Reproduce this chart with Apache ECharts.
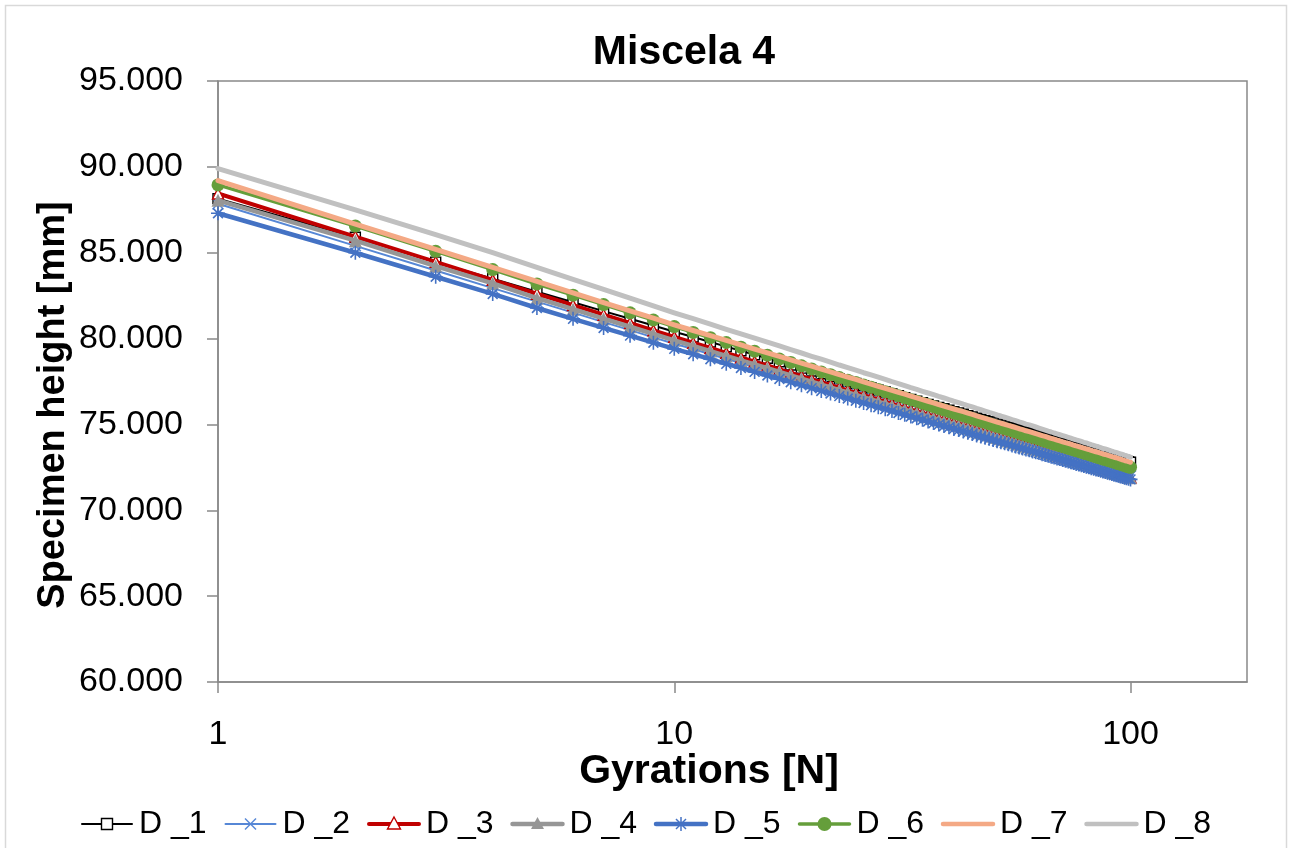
<!DOCTYPE html>
<html>
<head>
<meta charset="utf-8">
<script src="https://cdn.jsdelivr.net/npm/echarts@6/dist/echarts.min.js"></script>
<style>
html,body{margin:0;padding:0;background:#fff;}
#chart{width:1292px;height:848px;}
</style>
</head>
<body>
<div id="chart"></div>
<script>
const titleText = 'Miscela 4';
const xAxisName = 'Gyrations [N]';
const yAxisName = 'Specimen height [mm]';
const seriesNames = ['D _1','D _2','D _3','D _4','D _5','D _6','D _7','D _8'];
const xTicks = [1, 10, 100];
const yTicks = [60, 65, 70, 75, 80, 85, 90, 95];

const gyrations = [1,2,3,4,5,6,7,8,9,10,11,12,13,14,15,16,17,18,19,20,21,22,23,24,25,26,27,28,29,30,31,32,33,34,35,36,37,38,39,40,41,42,43,44,45,46,47,48,49,50,51,52,53,54,55,56,57,58,59,60,61,62,63,64,65,66,67,68,69,70,71,72,73,74,75,76,77,78,79,80,81,82,83,84,85,86,87,88,89,90,91,92,93,94,95,96,97,98,99,100];

const d1 = [88.15,85.90,84.45,83.48,82.73,82.12,81.60,81.15,80.76,80.40,80.09,79.80,79.53,79.29,79.06,78.85,78.65,78.46,78.28,78.11,77.95,77.80,77.65,77.51,77.38,77.25,77.12,77.00,76.89,76.78,76.67,76.56,76.46,76.36,76.27,76.17,76.08,75.99,75.91,75.83,75.74,75.67,75.59,75.51,75.44,75.36,75.29,75.22,75.16,75.09,75.02,74.96,74.90,74.84,74.78,74.72,74.65,74.60,74.54,74.49,74.43,74.38,74.33,74.27,74.22,74.17,74.12,74.07,74.02,73.98,73.93,73.89,73.84,73.80,73.75,73.70,73.67,73.62,73.58,73.54,73.50,73.45,73.42,73.38,73.34,73.30,73.26,73.23,73.19,73.15,73.11,73.07,73.04,73.01,72.97,72.94,72.90,72.87,72.83,72.80];
const d2 = [87.85,85.40,83.96,82.94,82.15,81.51,80.96,80.49,80.07,79.70,79.39,79.09,78.82,78.58,78.34,78.13,77.93,77.73,77.55,77.38,77.22,77.07,76.91,76.77,76.64,76.51,76.38,76.26,76.14,76.03,75.92,75.81,75.71,75.61,75.52,75.41,75.32,75.23,75.15,75.07,74.98,74.91,74.83,74.75,74.68,74.59,74.52,74.45,74.39,74.32,74.25,74.19,74.13,74.07,74.01,73.95,73.87,73.82,73.76,73.71,73.65,73.60,73.55,73.49,73.44,73.39,73.34,73.29,73.24,73.20,73.15,73.10,73.05,73.01,72.96,72.91,72.88,72.83,72.79,72.75,72.71,72.66,72.63,72.59,72.55,72.51,72.47,72.44,72.40,72.36,72.31,72.27,72.24,72.21,72.17,72.14,72.10,72.07,72.03,72.00];
const d3 = [88.45,85.94,84.47,83.42,82.61,81.95,81.39,80.91,80.48,80.10,79.76,79.45,79.17,78.90,78.66,78.43,78.21,78.01,77.81,77.63,77.46,77.30,77.13,76.98,76.84,76.70,76.57,76.44,76.31,76.19,76.07,75.96,75.84,75.75,75.64,75.54,75.44,75.34,75.25,75.16,75.07,74.99,74.91,74.83,74.75,74.66,74.59,74.52,74.44,74.37,74.29,74.23,74.16,74.10,74.03,73.97,73.90,73.84,73.78,73.72,73.66,73.61,73.55,73.49,73.43,73.38,73.33,73.27,73.22,73.17,73.12,73.07,73.02,72.97,72.93,72.88,72.84,72.79,72.74,72.70,72.65,72.61,72.56,72.52,72.48,72.44,72.39,72.36,72.32,72.28,72.24,72.20,72.16,72.12,72.08,72.05,72.01,71.97,71.93,71.90];
const d4 = [88.05,85.70,84.22,83.22,82.35,81.71,81.16,80.69,80.27,79.90,79.57,79.27,78.99,78.73,78.49,78.27,78.06,77.86,77.67,77.49,77.32,77.16,77.00,76.86,76.72,76.58,76.45,76.32,76.20,76.08,75.97,75.86,75.75,75.65,75.55,75.45,75.36,75.26,75.17,75.08,75.00,74.92,74.84,74.76,74.68,74.60,74.52,74.45,74.38,74.31,74.24,74.17,74.11,74.04,73.98,73.92,73.85,73.80,73.73,73.68,73.62,73.56,73.51,73.45,73.40,73.34,73.29,73.24,73.19,73.14,73.09,73.04,73.00,72.95,72.90,72.85,72.81,72.76,72.72,72.68,72.64,72.59,72.55,72.51,72.47,72.43,72.38,72.35,72.31,72.27,72.23,72.19,72.16,72.12,72.08,72.04,72.00,71.97,71.93,71.90];
const d5 = [87.30,85.00,83.60,82.60,81.78,81.15,80.62,80.17,79.76,79.40,79.09,78.80,78.53,78.29,78.06,77.85,77.65,77.46,77.28,77.11,76.95,76.80,76.65,76.51,76.38,76.25,76.12,76.00,75.89,75.78,75.67,75.56,75.46,75.36,75.27,75.17,75.08,74.99,74.91,74.83,74.74,74.67,74.59,74.51,74.44,74.36,74.29,74.22,74.16,74.09,74.02,73.96,73.90,73.84,73.78,73.72,73.65,73.60,73.54,73.49,73.43,73.38,73.33,73.27,73.22,73.17,73.12,73.07,73.02,72.98,72.93,72.89,72.84,72.80,72.75,72.70,72.67,72.62,72.58,72.54,72.50,72.45,72.42,72.38,72.34,72.30,72.26,72.23,72.19,72.15,72.11,72.07,72.04,72.01,71.97,71.94,71.90,71.87,71.83,71.80];
const d6 = [88.95,86.55,85.08,84.02,83.18,82.53,81.98,81.50,81.08,80.70,80.36,80.05,79.77,79.50,79.26,79.03,78.81,78.61,78.41,78.23,78.06,77.90,77.73,77.58,77.44,77.30,77.17,77.04,76.91,76.79,76.67,76.56,76.44,76.35,76.24,76.14,76.04,75.94,75.85,75.76,75.67,75.59,75.51,75.43,75.35,75.26,75.19,75.12,75.04,74.97,74.89,74.83,74.76,74.70,74.63,74.57,74.50,74.44,74.38,74.32,74.26,74.21,74.15,74.09,74.03,73.98,73.93,73.87,73.82,73.77,73.72,73.67,73.62,73.57,73.53,73.48,73.44,73.39,73.34,73.30,73.25,73.21,73.16,73.12,73.08,73.04,72.99,72.96,72.92,72.88,72.84,72.80,72.76,72.72,72.68,72.65,72.61,72.57,72.53,72.50];
const d7 = [89.20,86.67,85.19,84.14,83.33,82.66,82.10,81.61,81.19,80.80,80.47,80.17,79.89,79.63,79.39,79.17,78.96,78.76,78.57,78.39,78.22,78.06,77.90,77.76,77.62,77.48,77.35,77.22,77.10,76.98,76.87,76.76,76.65,76.55,76.45,76.35,76.26,76.16,76.07,75.98,75.90,75.82,75.74,75.66,75.58,75.50,75.42,75.35,75.28,75.21,75.14,75.07,75.01,74.94,74.88,74.82,74.75,74.70,74.63,74.58,74.52,74.46,74.41,74.35,74.30,74.24,74.19,74.14,74.09,74.04,73.99,73.94,73.90,73.85,73.80,73.75,73.71,73.66,73.62,73.58,73.54,73.49,73.45,73.41,73.37,73.33,73.28,73.25,73.21,73.17,73.13,73.09,73.06,73.02,72.98,72.94,72.90,72.87,72.83,72.80];
const d8 = [89.90,87.50,86.05,85.00,84.15,83.45,82.86,82.35,81.90,81.50,81.16,80.84,80.54,80.27,80.02,79.79,79.57,79.36,79.16,78.97,78.80,78.63,78.46,78.31,78.16,78.01,77.88,77.75,77.62,77.49,77.38,77.26,77.14,77.04,76.93,76.83,76.73,76.63,76.54,76.44,76.35,76.27,76.18,76.10,76.02,75.93,75.86,75.78,75.70,75.63,75.55,75.49,75.42,75.35,75.28,75.22,75.15,75.09,75.02,74.97,74.91,74.85,74.79,74.73,74.67,74.61,74.56,74.50,74.45,74.40,74.35,74.30,74.25,74.20,74.15,74.10,74.06,74.01,73.96,73.92,73.87,73.82,73.78,73.74,73.70,73.65,73.60,73.57,73.53,73.49,73.44,73.40,73.37,73.33,73.29,73.25,73.21,73.18,73.13,73.10];

const FONT = '"Liberation Sans", Arial, sans-serif';
const SYM_X = 'path://M0,0 L10,10 M10,0 L0,10';
const SYM_STAR = 'path://M0,5 L10,5 M5,0 L5,10 M1.5,1.5 L8.5,8.5 M8.5,1.5 L1.5,8.5';

const styles = [
  {color:'#000000', width:2, mark:'square', symbol:'rect', size:10, fill:'#ffffff', border:'#000000', bw:1.4},
  {color:'#5687D6', width:2, mark:'x', symbol:SYM_X, size:11, fill:'#5687D6', border:'#5687D6', bw:1.4},
  {color:'#C00000', width:4, mark:'triOpen', symbol:'triangle', size:11, fill:'#ffffff', border:'#C00000', bw:1.4},
  {color:'#969696', width:4.5, mark:'tri', symbol:'triangle', size:13, fill:'#969696', border:'#969696', bw:0},
  {color:'#4472C4', width:4.5, mark:'star', symbol:SYM_STAR, size:14, fill:'#4472C4', border:'#4472C4', bw:1.6},
  {color:'#659E3B', width:3.5, mark:'circle', symbol:'circle', size:13, fill:'#659E3B', border:'#659E3B', bw:0},
  {color:'#F4A985', width:5, mark:'none', symbol:'none', size:0, fill:'#F4A985', border:'#F4A985', bw:0},
  {color:'#C0C0C0', width:5, mark:'none', symbol:'none', size:0, fill:'#C0C0C0', border:'#C0C0C0', bw:0}
];
const values = [d1, d2, d3, d4, d5, d6, d7, d8];

const series = values.map((vals, i) => {
  const s = styles[i];
  return {
    name: seriesNames[i],
    type: 'line',
    data: gyrations.map((g, k) => [g, vals[k]]),
    symbol: s.symbol,
    symbolSize: s.size,
    showSymbol: s.symbol !== 'none',
    lineStyle: {color: s.color, width: s.width, cap: 'round', join: 'round'},
    itemStyle: {color: s.fill, borderColor: s.border, borderWidth: s.bw},
    silent: true,
    z: 2 + i
  };
});

// custom legend (line + marker + text), built from seriesNames/styles
function legendMarker(s, cx, cy) {
  const out = [];
  if (s.mark === 'square') {
    out.push({type:'rect', shape:{x:cx-5.5, y:cy-5.5, width:11, height:11}, style:{fill:'#fff', stroke:s.color, lineWidth:1.4}});
  } else if (s.mark === 'x') {
    out.push({type:'line', shape:{x1:cx-5.5, y1:cy-5.5, x2:cx+5.5, y2:cy+5.5}, style:{stroke:s.color, lineWidth:1.4}});
    out.push({type:'line', shape:{x1:cx+5.5, y1:cy-5.5, x2:cx-5.5, y2:cy+5.5}, style:{stroke:s.color, lineWidth:1.4}});
  } else if (s.mark === 'triOpen' || s.mark === 'tri') {
    const open = s.mark === 'triOpen';
    out.push({type:'polygon', shape:{points:[[cx, cy-7],[cx+6.5, cy+5],[cx-6.5, cy+5]]},
      style:{fill: open ? '#fff' : s.color, stroke: s.color, lineWidth: open ? 1.4 : 0}});
  } else if (s.mark === 'star') {
    out.push({type:'line', shape:{x1:cx-7, y1:cy, x2:cx+7, y2:cy}, style:{stroke:s.color, lineWidth:1.5}});
    out.push({type:'line', shape:{x1:cx, y1:cy-7, x2:cx, y2:cy+7}, style:{stroke:s.color, lineWidth:1.5}});
    out.push({type:'line', shape:{x1:cx-5, y1:cy-5, x2:cx+5, y2:cy+5}, style:{stroke:s.color, lineWidth:1.5}});
    out.push({type:'line', shape:{x1:cx+5, y1:cy-5, x2:cx-5, y2:cy+5}, style:{stroke:s.color, lineWidth:1.5}});
  } else if (s.mark === 'circle') {
    out.push({type:'circle', shape:{cx:cx, cy:cy, r:7}, style:{fill:s.color}});
  }
  return out;
}
const legendY = 824;
const legendStartX = 80;
const legendPitch = 143.5;
const legendIconW = 54;
const legendGraphics = [];
seriesNames.forEach((name, i) => {
  const s = styles[i];
  const x0 = legendStartX + i * legendPitch;
  legendGraphics.push({type:'line', silent:true, shape:{x1:x0+2, y1:legendY, x2:x0+legendIconW-2, y2:legendY},
    style:{stroke:s.color, lineWidth: Math.min(s.width, 4.5), lineCap:'round'}});
  legendMarker(s, x0 + legendIconW/2, legendY).forEach(g => { g.silent = true; legendGraphics.push(g); });
  legendGraphics.push({type:'text', silent:true, x: x0 + legendIconW + 5, y: legendY,
    style:{text:name, fill:'#000', font:'32px ' + FONT, textAlign:'left', textVerticalAlign:'middle'}});
});

const chart = echarts.init(document.getElementById('chart'), null, {renderer: 'canvas'});
chart.setOption({
  animation: false,
  backgroundColor: '#ffffff',
  textStyle: {fontFamily: FONT},
  title: {
    text: titleText,
    left: 679, top: 27, textAlign: 'center',
    textStyle: {fontFamily: FONT, fontWeight: 'bold', fontSize: 41, color: '#000'}
  },
  grid: {
    left: 218, right: 45, top: 81, bottom: 166,
    show: true, borderColor: '#898989', borderWidth: 1.5, backgroundColor: 'transparent'
  },
  xAxis: {
    type: 'log', logBase: 10, min: 1, max: 180,
    axisLine: {show: true, lineStyle: {color: '#898989', width: 1.5}},
    axisTick: {show: true, inside: false, length: 11, customValues: xTicks, lineStyle: {color: '#898989', width: 1.5}},
    axisLabel: {customValues: xTicks, margin: 36, fontFamily: FONT, fontSize: 34, color: '#000',
      formatter: v => String(v)},
    minorTick: {show: false},
    splitLine: {show: false}
  },
  yAxis: {
    type: 'value', min: 60, max: 95, interval: 5,
    axisLine: {show: true, lineStyle: {color: '#898989', width: 1.5}},
    axisTick: {show: true, inside: false, length: 11, lineStyle: {color: '#898989', width: 1.5}},
    axisLabel: {margin: 35, fontFamily: FONT, fontSize: 34, color: '#000',
      formatter: v => v.toFixed(3)},
    splitLine: {show: false}
  },
  graphic: [{
    type: 'rect', silent: true, z: -1,
    shape: {x: 5.5, y: 5.5, width: 1281, height: 846},
    style: {fill: 'none', stroke: '#d9d9d9', lineWidth: 1.5}
  }, {
    type: 'text', silent: true, x: 54, y: 405, rotation: Math.PI / 2,
    style: {text: yAxisName, fill: '#000', font: 'bold 38px ' + FONT, textAlign: 'center', textVerticalAlign: 'middle'}
  }, {
    type: 'text', silent: true, x: 709, y: 772,
    style: {text: xAxisName, fill: '#000', font: 'bold 41px ' + FONT, textAlign: 'center', textVerticalAlign: 'middle'}
  }].concat(legendGraphics),
  series: series
});
</script>
</body>
</html>
